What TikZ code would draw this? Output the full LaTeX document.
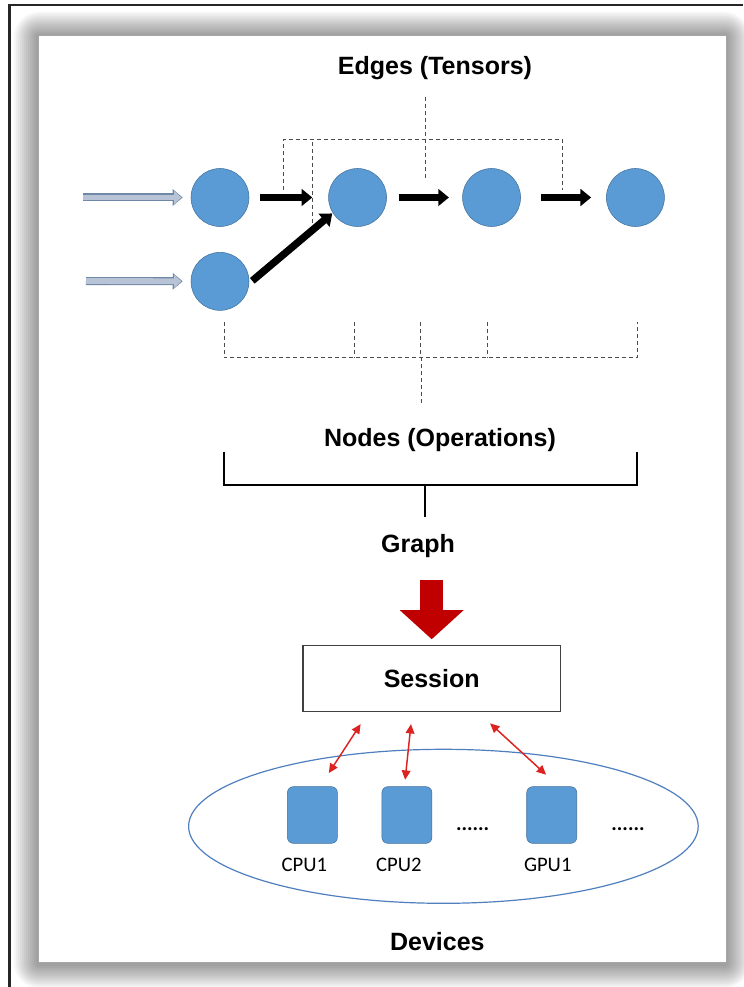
\documentclass[tikz,border=0pt]{standalone}
\usepackage{fontspec}
\setmainfont{Liberation Sans}
\newfontfamily\labelfont{Carlito}
\usepackage{tikz}
\usetikzlibrary{positioning, shapes.geometric, arrows.meta}
\definecolor{opblue}{HTML}{5B9BD5}
\definecolor{opline}{HTML}{41719C}
\definecolor{infill}{HTML}{B8C4D6}
\definecolor{inedge}{HTML}{7088A8}
\definecolor{blockred}{HTML}{C00000}
\definecolor{linkred}{HTML}{DD2222}
\definecolor{devring}{HTML}{4F7FBF}
\newcommand\headfont{\fontsize{18.75}{22}\selectfont\bfseries}
\tikzstyle{operation} = [circle, minimum size=43.5pt, inner sep=0pt, fill=opblue, draw=opline, line width=0.4pt]
\tikzstyle{device} = [rectangle, rounded corners=4.5pt, minimum width=37.5pt, minimum height=42.5pt, inner sep=0pt, fill=opblue, draw=opline, line width=0.4pt]
\tikzstyle{heading} = [font=\headfont, inner sep=0pt, anchor=base]
\tikzstyle{devlabel} = [font=\labelfont\fontsize{15.5}{18}\selectfont, inner sep=0pt]
\tikzstyle{process} = [rectangle, minimum width=193.2pt, minimum height=49.5pt, text centered, draw=black!75, line width=1.1pt, fill=white, font=\headfont]
\tikzstyle{pool} = [ellipse, minimum width=382.2pt, minimum height=115.5pt, inner sep=0pt, draw=devring, line width=0.9pt]
\tikzstyle{feed} = [draw=infill, line width=4.4pt, shorten >=7pt, -{Triangle[length=5.5pt,width=9.5pt]}, preaction={draw=inedge, line width=6pt, shorten >=6pt, -{Triangle[length=7.5pt,width=12pt]}}]
\tikzstyle{flow} = [line width=5.5pt, -{Triangle[length=8pt,width=12.5pt]}]
\tikzstyle{bigarrow} = [draw=blockred, line width=17.25pt, -{Triangle[length=21.75pt,width=46.5pt]}]
\tikzstyle{link} = [draw=linkred, line width=1.1pt, {Triangle[length=7pt,width=6.5pt]}-{Triangle[length=7pt,width=6.5pt]}]
\tikzstyle{tensorline} = [draw=black!70, line width=0.7pt, dash pattern=on 3pt off 2.25pt]
\tikzstyle{brace} = [draw=black, line width=1.5pt]

\begin{document}
\begin{tikzpicture}[x=0.75pt, y=-0.75pt]
        \useasboundingbox (0,0) rectangle (743,987);
        \fill[white] (0,0) rectangle (743,987);

        % page frame and panel with its shadow
        \draw[black!85, line width=1.8pt] (9.3,987) -- (9.3,5) -- (743,5);
        \foreach \s [evaluate=\s as \r using 1.6*\s] in {1,...,12}
            \fill[black, opacity=0.035, rounded corners=\r pt] ({38-2*\s},{36-2*\s}) rectangle ({726+2*\s},{964+2*\s});
        \fill[white] (38,35) rectangle (726,962);
        \draw[black!35, line width=0.6pt] (38,35) rectangle (726,962);

        % graph
        \node[operation]                                       (op 1)    at (220,197.5) {};
        \node[operation, below=19pt of op 1]                   (op 2)    {};
        \node[operation, right=59.25pt of op 1]                (op 3)    {};
        \node[operation, right=56.6pt of op 3]                 (op 4)    {};
        \node[operation, right=64pt of op 4]                   (op 5)    {};
        \coordinate                                            (in 1)    at (83,197.5);
        \coordinate                                            (in 2)    at (86,281);

        \draw[feed] (in 1) -- (op 1);
        \draw[feed] (in 2) -- (op 2);
        \draw[flow, shorten <=8.25pt, shorten >=12pt] (op 1) -- (op 3);
        \draw[flow, shorten <=9pt, shorten >=10pt]    (op 3) -- (op 4);
        \draw[flow, shorten <=15pt, shorten >=11.25pt] (op 4) -- (op 5);
        \draw[flow, shorten <=3pt, shorten >=0.5pt]   (op 2.356) -- (op 3.212);

        % edges and nodes brackets
        \node[heading]                                         (edges)   at (435,75) {Edges (Tensors)};
        \draw[tensorline] (283.3,190) |- (562,139.3) -- (562,190);
        \draw[tensorline] (312.3,223) -- (312.3,139.3);
        \draw[tensorline] (425,96.7) -- (425,180);

        \draw[tensorline] (224,321.7) |- (637.7,357.3) -- (637.7,321.7);
        \foreach \x in {354.3, 420, 487.3}
            \draw[tensorline] (\x,321.7) -- (\x,357.3);
        \draw[tensorline] (421.7,357.3) -- (421.7,406);
        \node[heading]                                         (nodes)   at (440,446) {Nodes (Operations)};

        \draw[brace] (224.3,451.7) |- (636.7,485) -- (636.7,451.7);
        \draw[brace] (425,485) -- (425,516.7);
        \node[heading]                                         (graph)   at (418,552) {Graph};

        % session and devices
        \node[process]                                         (session) at (431.7,678.7) {Session};
        \draw[bigarrow, shorten <=17pt, shorten >=4.3pt] (graph.south -| session.north) -- (session.north);

        \node[pool]                                            (pool)    at (443.4,826.3) {};
        \node[device]                                          (cpu 1)   at (312.4,815) {};
        \node[device, right=33pt of cpu 1]                     (cpu 2)   {};
        \node[device, right=70.7pt of cpu 2]                   (gpu 1)   {};
        \node[devlabel, below=11pt of cpu 1, xshift=-6pt]      (cpu 1 label) {CPU1};
        \node[devlabel, below=11pt of cpu 2, xshift=-6pt]      (cpu 2 label) {CPU2};
        \node[devlabel, below=11pt of gpu 1, xshift=-3pt]      (gpu 1 label) {GPU1};
        \node[devlabel]                                        (dots 1)  at (472.6,829) {\textbf{......}};
        \node[devlabel]                                        (dots 2)  at (628,829) {\textbf{......}};
        \node[heading]                                         (devices) at (437.4,950) {Devices};

        \draw[link, shorten <=10.5pt, shorten >=12pt] (session.208) -- (cpu 1.75);
        \draw[link, shorten <=8.8pt, shorten >=5pt]   (session.240) -- (cpu 2.95);
        \draw[link, shorten <=12.2pt, shorten >=13pt] (session.324) -- (gpu 1.76);
    \end{tikzpicture}
\end{document}
